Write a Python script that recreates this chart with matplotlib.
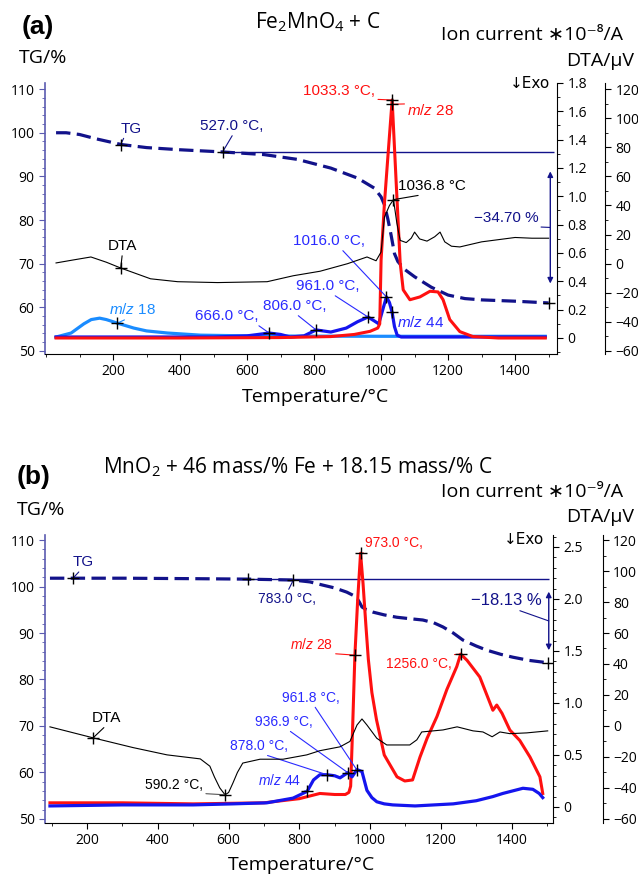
import numpy as np
import matplotlib
matplotlib.use("Agg")
import matplotlib.pyplot as plt
from matplotlib.ticker import MultipleLocator, FixedLocator, FuncFormatter

plt.rcParams['font.family'] = ['Open Sans', 'DejaVu Sans']
plt.rcParams['mathtext.fontset'] = 'custom'
plt.rcParams['mathtext.it'] = 'Liberation Sans:italic'
plt.rcParams['mathtext.rm'] = 'Liberation Sans'

# ---------------- panel (a): Fe2MnO4 + C ----------------
a_tg_T = [30, 60, 100, 150, 225, 300, 400, 527, 650, 750, 850, 930, 980, 1000, 1010, 1020,
          1030, 1040, 1050, 1070, 1100, 1150, 1200, 1250, 1300, 1400, 1500]
a_tg = [100.0, 100.0, 99.6, 98.6, 97.3, 96.6, 96.1, 95.6, 95.0, 93.9, 91.9, 89.6, 87.3, 85.3, 83.5, 80.3,
        76.5, 72.3, 70.5, 68.7, 67.0, 64.6, 62.8, 62.0, 61.7, 61.4, 61.0]

a_dta_T = [30, 80, 134, 180, 223, 312, 393, 512, 660, 738, 818, 900, 958, 985, 1000, 1010, 1025,
           1037, 1047, 1057, 1075, 1090, 1100, 1115, 1137, 1160, 1176, 1190, 1210, 1235, 1300,
           1400, 1450, 1500]
a_dta = [0.5, 2.5, 4.6, 1.0, -3.0, -10.4, -12.4, -13.0, -12.4, -8.3, -5.2, 0.0, 4.6, 2.0, 8.0, 32.0, 40.0,
         44.0, 28.0, 16.0, 14.5, 17.5, 21.7, 17.0, 15.5, 18.5, 21.7, 15.0, 12.0, 11.5, 15.0,
         18.0, 17.5, 17.5]

a_m28_T = [30, 400, 700, 850, 920, 967, 990, 996, 1000, 1010, 1020, 1033, 1045, 1057, 1066, 1086,
           1116, 1146, 1170, 1185, 1205, 1235, 1274, 1350, 1490]
a_m28 = [0.0, 0.0, 0.003, 0.01, 0.025, 0.047, 0.07, 0.1, 0.55, 0.95, 1.27, 1.68, 1.1, 0.53, 0.34, 0.27,
         0.29, 0.33, 0.325, 0.27, 0.13, 0.045, 0.01, 0.0, 0.0]

a_m44_T = [30, 500, 600, 666, 700, 729, 770, 806, 850, 896, 930, 961, 980, 993, 1005, 1016, 1025,
           1033, 1040, 1048, 1060, 1490]
a_m44 = [0.007, 0.007, 0.015, 0.035, 0.025, 0.007, 0.015, 0.057, 0.042, 0.07, 0.115, 0.148, 0.12, 0.1,
         0.2, 0.29, 0.25, 0.18, 0.08, 0.02, 0.007, 0.007]

a_m18_T = [30, 75, 113, 135, 160, 180, 213, 262, 300, 363, 461, 600, 800, 1000, 1200, 1490]
a_m18 = [0.007, 0.035, 0.1, 0.13, 0.14, 0.13, 0.105, 0.07, 0.05, 0.035, 0.02, 0.015, 0.013, 0.012,
         0.012, 0.012]

# ---------------- panel (b): MnO2 + Fe + C ----------------
b_tg_T = [95, 160, 300, 500, 655, 720, 783, 830, 867, 900, 934, 955, 963, 970, 977, 990, 1008, 1040,
          1075, 1110, 1149, 1180, 1206, 1235, 1262, 1300, 1330, 1370, 1403, 1450, 1502]
b_tg = [101.8, 101.8, 101.8, 101.7, 101.6, 101.5, 101.4, 101.0, 100.3, 99.7, 98.8, 98.0, 97.5, 96.6,
        95.6, 95.0, 94.5, 93.9, 93.4, 93.1, 92.8, 92.2, 91.3, 90.0, 88.5, 87.2, 86.3, 85.4, 84.8, 84.1, 83.6]

b_dta_T = [95, 217, 330, 426, 520, 547, 560, 575, 590, 600, 612, 625, 640, 689, 754, 821, 858, 915,
           943, 963, 977, 991, 1019, 1047, 1112, 1132, 1146, 1206, 1246, 1291, 1319, 1345, 1367,
           1395, 1443, 1502]
b_dta = [-0.6, -7.7, -14.0, -18.7, -21.3, -26.0, -33.0, -40.0, -44.5, -43.0, -37.0, -30.0, -24.0, -21.5,
         -21.5, -18.7, -16.0, -13.5, -10.0, 0.6, 4.5, 0.6, -8.0, -12.3, -12.3, -9.0, -3.9, -2.6, -0.6,
         -3.2, -3.9, -7.0, -3.9, -5.0, -4.5, -3.2]

b_m28_T = [95, 300, 500, 700, 800, 858, 900, 930, 940, 945, 950, 957, 965, 973, 980, 988, 995, 1005,
           1018, 1040, 1076, 1098, 1120, 1141, 1161, 1189, 1217, 1245, 1256, 1274, 1310, 1347, 1358,
           1373, 1395, 1423, 1452, 1480, 1488]
b_m28 = [0.04, 0.04, 0.03, 0.04, 0.08, 0.13, 0.12, 0.12, 0.14, 0.2, 0.7, 1.46, 2.0, 2.44, 2.15, 1.75,
         1.42, 1.1, 0.84, 0.5, 0.29, 0.25, 0.26, 0.48, 0.66, 0.87, 1.13, 1.35, 1.47, 1.41, 1.25, 0.93,
         0.98, 0.9, 0.74, 0.64, 0.48, 0.29, 0.13]

b_m44_T = [95, 300, 500, 612, 708, 782, 822, 840, 858, 878, 900, 915, 937, 949, 963, 977, 991, 1005,
           1019, 1040, 1064, 1127, 1235, 1300, 1347, 1375, 1432, 1460, 1478, 1488]
b_m44 = [0.01, 0.02, 0.02, 0.03, 0.04, 0.085, 0.15, 0.26, 0.31, 0.31, 0.3, 0.28, 0.33, 0.29, 0.36,
         0.34, 0.16, 0.09, 0.05, 0.03, 0.02, 0.01, 0.03, 0.06, 0.1, 0.13, 0.18, 0.17, 0.13, 0.09]

W, H = 638, 875
fig = plt.figure(figsize=(W / 100, H / 100), dpi=100)

NAVY = '#12128a'
RED = '#ff1010'
BLUE = '#1515ee'
LBLUE = '#1a8cff'
TBLUE = '#2a2aff'
SPINE = '#5b5bb0'
AFONT = ['Liberation Sans', 'DejaVu Sans']


def tg2dta(v):
    return (v - 50) * 3 - 60


def ftext(x, y, s, **kw):
    fig.text(x / W, 1 - y / H, s, **kw)


def make_axes(l, t, r, b, xlim, tglim, ionlim, iontick, dta_off):
    ax = fig.add_axes([l / W, 1 - b / H, (r - l) / W, (b - t) / H])
    ax.set_xlim(xlim)
    ax.set_ylim(tglim)
    ax.xaxis.set_major_locator(FixedLocator([200, 400, 600, 800, 1000, 1200, 1400]))
    ax.xaxis.set_minor_locator(MultipleLocator(100))
    ax.yaxis.set_major_locator(MultipleLocator(10))
    ax.yaxis.set_minor_locator(MultipleLocator(2))
    for s in ['top', 'right']:
        ax.spines[s].set_visible(False)
    ax.spines['left'].set_color(SPINE)
    ax.spines['left'].set_linewidth(1.2)
    ax.tick_params(axis='y', which='both', color=SPINE)
    ax.tick_params(which='major', length=4, labelsize=10)
    ax.tick_params(which='minor', length=2)

    ai = ax.twinx()
    ai.set_ylim(ionlim)
    ai.yaxis.set_major_locator(MultipleLocator(iontick))
    ai.yaxis.set_minor_locator(MultipleLocator(0.1))
    ai.yaxis.set_major_formatter(FuncFormatter(lambda v, p: '0' if abs(v) < 1e-9 else f'{v:.1f}'))
    for s in ['top', 'left', 'bottom']:
        ai.spines[s].set_visible(False)
    ai.tick_params(which='major', length=4, labelsize=10)
    ai.tick_params(which='minor', length=2)

    ad = ax.twinx()
    ad.set_ylim(tg2dta(tglim[0]), tg2dta(tglim[1]))
    ad.yaxis.set_major_locator(MultipleLocator(20))
    ad.yaxis.set_minor_locator(MultipleLocator(10))
    for s in ['top', 'left', 'bottom']:
        ad.spines[s].set_visible(False)
    ad.spines['right'].set_position(('axes', dta_off))
    ad.tick_params(which='major', length=4, labelsize=10)
    ad.tick_params(which='minor', length=2)
    return ax, ai, ad


def note(ax, T, v, txt, col, dx, dy, ha, va, rel, size=11, lcol=None):
    ax.annotate(txt, xy=(T, v), xytext=(dx, dy), textcoords='offset pixels', ha=ha, va=va,
                color=col, fontsize=size, family=AFONT,
                arrowprops=dict(arrowstyle='-', color=lcol or col, lw=0.8, shrinkA=0, shrinkB=0,
                                relpos=rel))
    ax.plot(T, v, marker='+', color='k', ms=8, mew=1, zorder=10)


def tg_drop(ax, T0, Tend, top, bottom, xa, label, dx, dy, rel, size, shrink):
    ax.hlines(top, T0, ax.get_xlim()[1] - 10, color=NAVY, lw=1)
    ax.annotate('', xy=(xa, bottom), xytext=(xa, top),
                arrowprops=dict(arrowstyle='<|-|>', color=NAVY, lw=1, mutation_scale=8,
                                shrinkA=shrink, shrinkB=shrink))
    ax.plot(Tend, bottom, marker='+', color='k', ms=8, mew=1, zorder=10)
    ax.annotate(label, xy=(xa, (top + bottom) / 2), xytext=(dx, dy), textcoords='offset pixels',
                ha='right', va='bottom', color=NAVY, fontsize=size, family=AFONT,
                arrowprops=dict(arrowstyle='-', color=NAVY, lw=0.8, shrinkA=0, shrinkB=0, relpos=rel))


# ================= panel (a) =================
ax, ai, ad = make_axes(45, 83, 557, 354, (-3, 1525), (49.3, 111.4), (-0.113, 1.80), 0.2, 1.094)
ax.plot(a_tg_T, a_tg, color=NAVY, lw=2.3, dashes=(4.5, 2))
ai.plot(a_m18_T, a_m18, color=LBLUE, lw=2.3)
ai.plot(a_m44_T, a_m44, color=BLUE, lw=2.3)
ai.plot(a_m28_T, a_m28, color=RED, lw=2.2)
ad.plot(a_dta_T, a_dta, color='k', lw=0.8)

note(ax, 223, 97.3, 'TG', NAVY, 0, 9, 'left', 'bottom', (0.2, 0))
note(ax, 527, 95.6, '527.0 °C,', NAVY, -23, 19, 'left', 'bottom', (0.54, 0))
tg_drop(ax, 527, 1500, 95.6, 61.0, 1505, '\u221234.70 %', -12, 2, (0.47, 0), 11, 14)
note(ad, 223, -3.0, 'DTA', 'k', -13, 15, 'left', 'bottom', (0.5, 0))
note(ad, 1036.8, 44.0, '1036.8 °C', 'k', 5, 7, 'left', 'bottom', (0.53, 0))
note(ai, 1033.3, 1.68, '1033.3 °C,', RED, -17, 2, 'right', 'bottom', (0.57, 0))
note(ai, 1033.3, 1.65, r'$\mathit{m/z}$ 28', RED, 15, 1, 'left', 'top', (0.55, 1))
note(ai, 213, 0.105, r'$\mathit{m/z}$ 18', LBLUE, -8, 6, 'left', 'bottom', (0.45, 0))
note(ai, 666, 0.035, '666.0 °C,', TBLUE, -11, 10, 'right', 'bottom', (0.95, 0))
note(ai, 806, 0.057, '806.0 °C,', TBLUE, -53, 17, 'left', 'bottom', (0.5, 0))
note(ai, 961, 0.148, '961.0 °C,', TBLUE, -72, 24, 'left', 'bottom', (0.55, 0))
note(ai, 1016, 0.29, '1016.0 °C,', TBLUE, -93, 49, 'left', 'bottom', (0.65, 0))
note(ai, 1033, 0.18, r'$\mathit{m/z}$ 44', TBLUE, 5, -3, 'left', 'top', (0.5, 1))

ftext(22, 27, '(a)', fontsize=19, fontweight='bold', family=AFONT, va='center')
ftext(318, 22, r'Fe$_\mathregular{2}$MnO$_\mathregular{4}$ + C', fontsize=15, ha='center', va='center')
ftext(19, 58, 'TG/%', fontsize=14, va='center')
ftext(623, 35, 'Ion current \u221710\u207b\u2078/A', fontsize=14, ha='right', va='center')
ftext(634, 61, 'DTA/μV', fontsize=14, ha='right', va='center')
ftext(550, 83, '↓Exo', fontsize=11, ha='right', va='center', family=['DejaVu Sans'])
ftext(315, 397, 'Temperature/°C', fontsize=14, ha='center', va='center')

# ================= panel (b) =================
ax, ai, ad = make_axes(45, 535, 553, 823, (81, 1517), (49.1, 111.1), (-0.154, 2.615), 0.5, 1.098)
ax.plot(b_tg_T, b_tg, color=NAVY, lw=2.3, dashes=(4.5, 2))
ai.plot(b_m28_T, b_m28, color=RED, lw=2.2)
ai.plot(b_m44_T, b_m44, color=BLUE, lw=2.3)
ad.plot(b_dta_T, b_dta, color='k', lw=0.8)

note(ax, 160, 101.8, 'TG', NAVY, 0, 9, 'left', 'bottom', (0.4, 0))
note(ax, 783, 101.4, '783.0 °C,', NAVY, -35, -12, 'left', 'top', (0.5, 1), size=10)
ax.plot(655, 101.6, marker='+', color='k', ms=8, mew=1, zorder=10)
tg_drop(ax, 655, 1502, 101.6, 83.6, 1505, '\u221218.13 %', -7, 13, (0.58, 0), 12, 9)
note(ad, 217, -7.7, 'DTA', 'k', -1, 13, 'left', 'bottom', (0.5, 0))
note(ad, 590.2, -44.5, '590.2 °C,', 'k', -80, 3, 'left', 'bottom', (0.5, 0), size=10, lcol='#555555')
note(ai, 973, 2.44, '973.0 °C,', RED, 4, 3, 'left', 'bottom', (0.6, 0), size=10)
note(ai, 957, 1.46, r'$\mathit{m/z}$ 28', RED, -22, 3, 'right', 'bottom', (0.5, 0), size=10)
note(ai, 1256, 1.47, '1256.0 °C,', RED, -9, -3, 'right', 'top', (0.55, 1), size=10)
note(ai, 961.8, 0.36, '961.8 °C,', TBLUE, -75, 65, 'left', 'bottom', (0.55, 0), size=10)
note(ai, 936.9, 0.33, '936.9 °C,', TBLUE, -93, 44, 'left', 'bottom', (0.55, 0), size=10)
note(ai, 878, 0.31, '878.0 °C,', TBLUE, -97, 22, 'left', 'bottom', (0.5, 0), size=10)
note(ai, 822, 0.15, r'$\mathit{m/z}$ 44', TBLUE, -49, 3, 'left', 'bottom', (0.55, 0), size=10)

ftext(17, 477, '(b)', fontsize=19, fontweight='bold', family=AFONT, va='center')
ftext(298, 467, r'MnO$_\mathregular{2}$ + 46 mass/% Fe + 18.15 mass/% C', fontsize=15, ha='center',
      va='center')
ftext(17, 510, 'TG/%', fontsize=14, va='center')
ftext(623, 492, 'Ion current \u221710\u207b\u2079/A', fontsize=14, ha='right', va='center')
ftext(634, 517, 'DTA/μV', fontsize=14, ha='right', va='center')
ftext(544, 540, '↓Exo', fontsize=11, ha='right', va='center', family=['DejaVu Sans'])
ftext(301, 865, 'Temperature/°C', fontsize=14, ha='center', va='center')

fig.savefig('out.png', dpi=100)
